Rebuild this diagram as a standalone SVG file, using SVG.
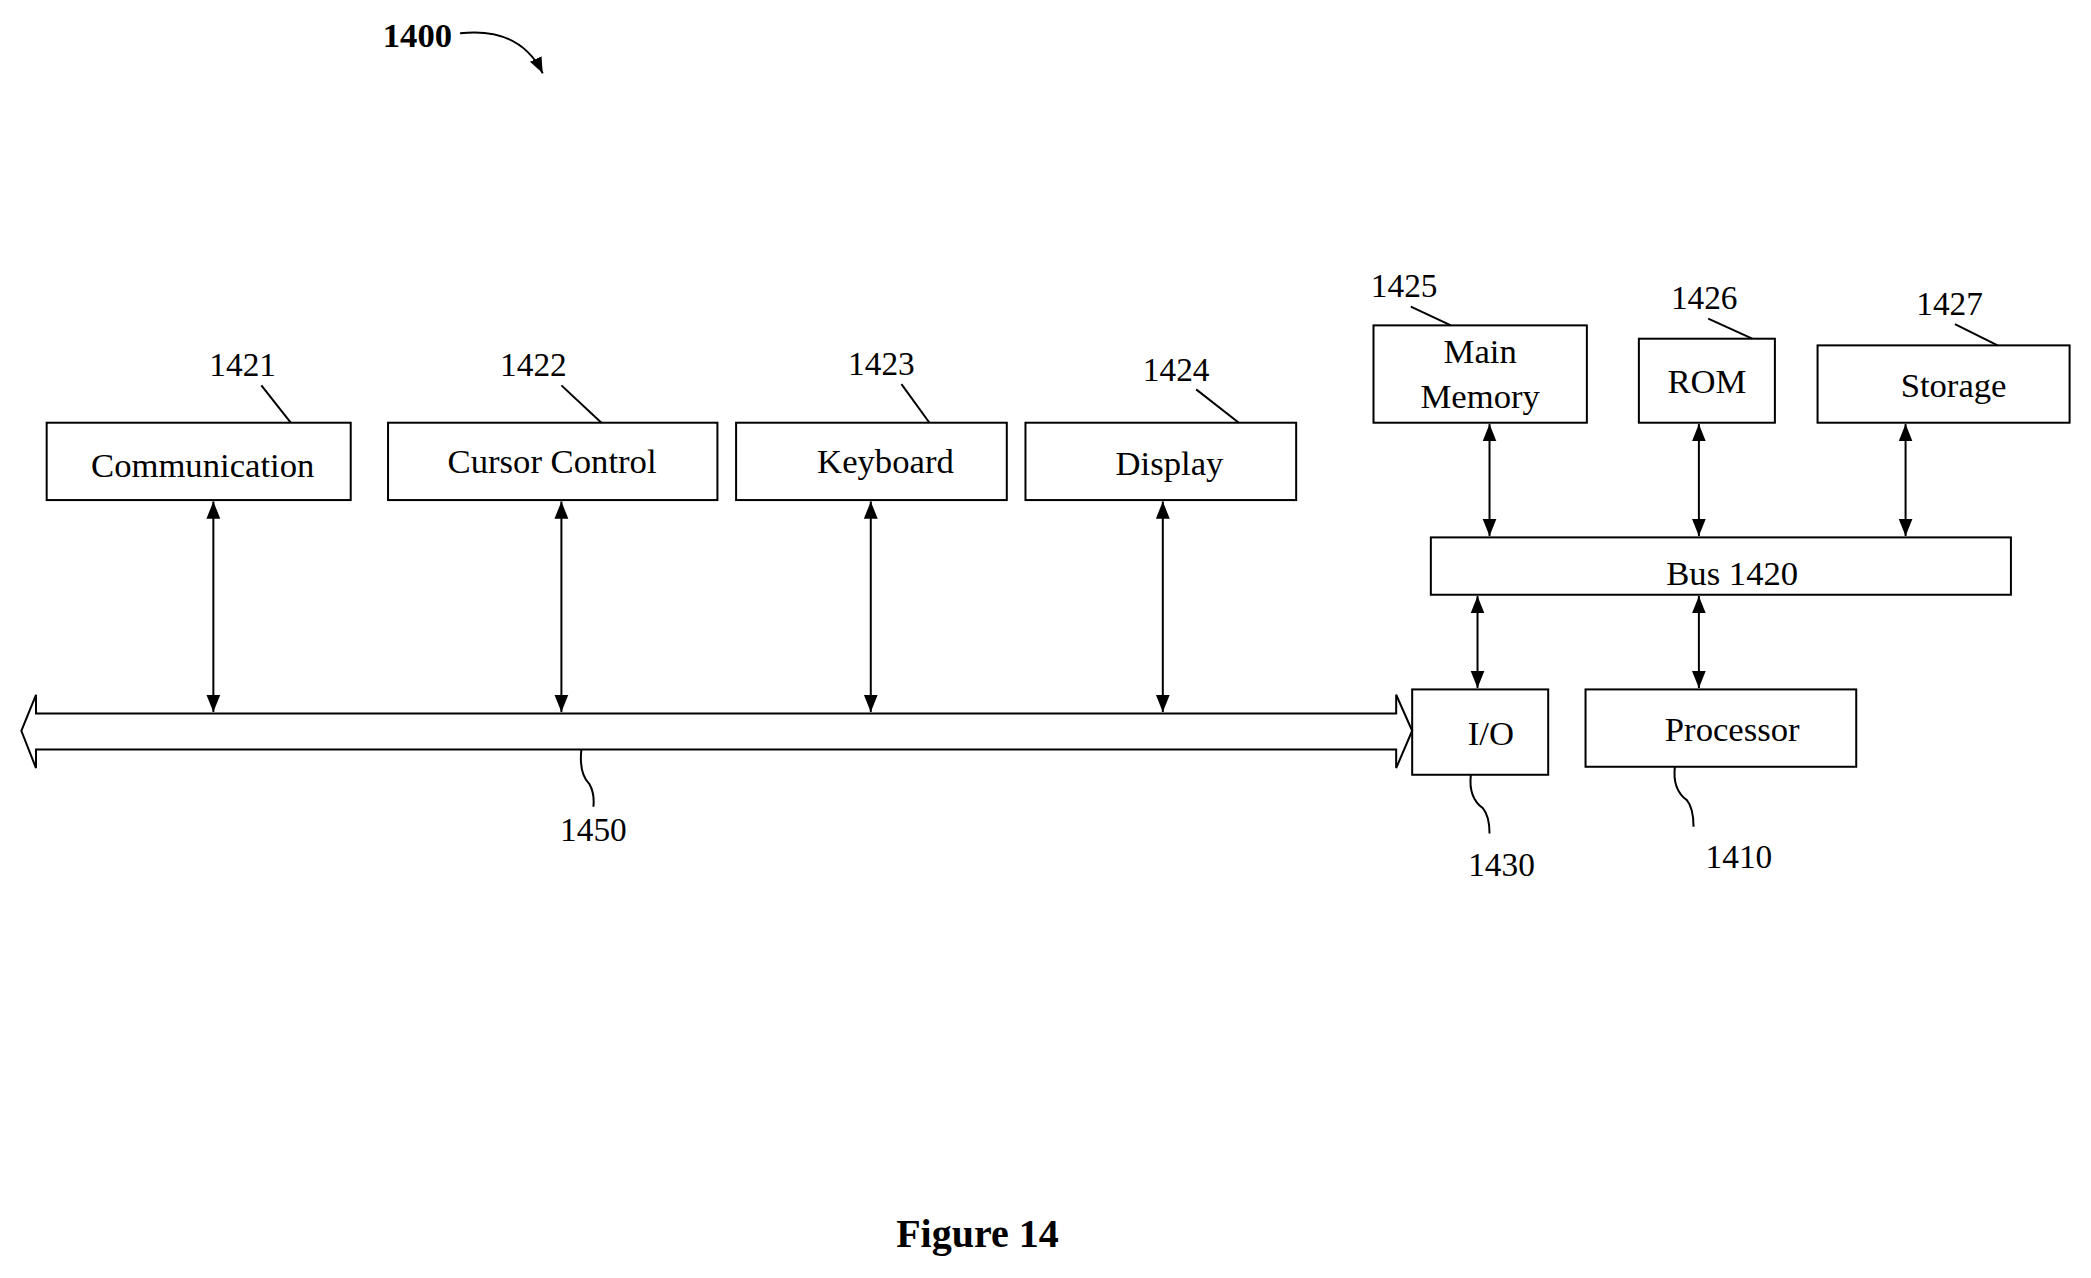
<svg xmlns="http://www.w3.org/2000/svg" width="2091" height="1278" viewBox="0 0 2091 1278">
<defs>
<marker id="ah" viewBox="0 0 10 10" refX="10" refY="5" markerWidth="13" markerHeight="13" markerUnits="userSpaceOnUse" orient="auto-start-reverse"><path d="M0,1 L10,5 L0,9 Z" fill="#000"/></marker>
<marker id="ah2" viewBox="0 0 10 10" refX="10" refY="5" markerWidth="12" markerHeight="12" markerUnits="userSpaceOnUse" orient="auto"><path d="M0,1 L10,5 L0,9 Z" fill="#000"/></marker>
</defs>
<style>
.b{fill:#fff;stroke:#000;stroke-width:1.5}
.t{font-family:"Liberation Serif",serif;font-size:26px;text-anchor:middle;fill:#000}
.n{font-family:"Liberation Serif",serif;font-size:25px;text-anchor:middle;fill:#000}
.l{fill:none;stroke:#000;stroke-width:1.5}
.a{fill:none;stroke:#000;stroke-width:1.5;marker-start:url(#ah);marker-end:url(#ah)}
</style>
<rect width="2091" height="1278" fill="#fff"/>
<g transform="scale(1.3335)">
<g id="title">
<text x="313" y="35" class="t" style="font-weight:bold">1400</text>
<path class="l" d="M345,25 Q390,20 407,55" marker-end="url(#ah2)"/>
</g>
<g id="n1421"><rect class="b" x="35" y="317" width="228" height="58"/><text class="t" x="152" y="358">Communication</text><text class="n" x="182" y="282">1421</text><line class="l" x1="196" y1="289" x2="218" y2="317"/></g>
<g id="n1422"><rect class="b" x="291" y="317" width="247" height="58"/><text class="t" x="414" y="355">Cursor Control</text><text class="n" x="400" y="282">1422</text><line class="l" x1="421" y1="289" x2="451" y2="317"/></g>
<g id="n1423"><rect class="b" x="552" y="317" width="203" height="58"/><text class="t" x="664" y="355">Keyboard</text><text class="n" x="661" y="281">1423</text><line class="l" x1="676" y1="288" x2="697" y2="317"/></g>
<g id="n1424"><rect class="b" x="769" y="317" width="203" height="58"/><text class="t" x="877" y="356">Display</text><text class="n" x="882" y="286">1424</text><line class="l" x1="897" y1="292" x2="929" y2="317"/></g>
<g id="n1425"><rect class="b" x="1030" y="244" width="160" height="73"/><text class="t" x="1110" y="272">Main</text><text class="t" x="1110" y="306">Memory</text><text class="n" x="1053" y="223">1425</text><line class="l" x1="1058" y1="230" x2="1088" y2="244"/></g>
<g id="n1426"><rect class="b" x="1229" y="254" width="102" height="63"/><text class="t" x="1280" y="295">ROM</text><text class="n" x="1278" y="232">1426</text><line class="l" x1="1281" y1="239" x2="1314" y2="254"/></g>
<g id="n1427"><rect class="b" x="1363" y="259" width="189" height="58"/><text class="t" x="1465" y="298">Storage</text><text class="n" x="1462" y="236">1427</text><line class="l" x1="1466" y1="243" x2="1498" y2="259"/></g>
<g id="n1420"><rect class="b" x="1073" y="403" width="435" height="43"/><text class="t" x="1299" y="439">Bus 1420</text></g>
<g id="n1430"><rect class="b" x="1059" y="517" width="102" height="64"/><text class="t" x="1118" y="559">I/O</text><text class="n" x="1126" y="657">1430</text><path class="l" d="M1103,581 Q1101,598 1112,606 Q1117,612 1117,625"/></g>
<g id="n1410"><rect class="b" x="1189" y="517" width="203" height="58"/><text class="t" x="1299" y="556">Processor</text><text class="n" x="1304" y="651">1410</text><path class="l" d="M1256,575 Q1254,592 1265,600 Q1270,606 1270,620"/></g>
<g id="n1450"><path class="b" d="M16,548 L27,521 L27,535 L1047,535 L1047,521 L1059,548 L1047,576 L1047,562 L27,562 L27,576 Z"/><text class="n" x="445" y="631">1450</text><path class="l" d="M436,562 Q434,580 442,588 Q446,595 445,605"/></g>
<g id="connectors">
<line class="a" x1="160" y1="376" x2="160" y2="534"/>
<line class="a" x1="421" y1="376" x2="421" y2="534"/>
<line class="a" x1="653" y1="376" x2="653" y2="534"/>
<line class="a" x1="872" y1="376" x2="872" y2="534"/>
<line class="a" x1="1117" y1="318" x2="1117" y2="402"/>
<line class="a" x1="1274" y1="318" x2="1274" y2="402"/>
<line class="a" x1="1429" y1="318" x2="1429" y2="402"/>
<line class="a" x1="1108" y1="447" x2="1108" y2="516"/>
<line class="a" x1="1274" y1="447" x2="1274" y2="516"/>
</g>
<text x="733" y="935" class="t" style="font-weight:bold;font-size:30px">Figure 14</text>
</g>
</svg>
